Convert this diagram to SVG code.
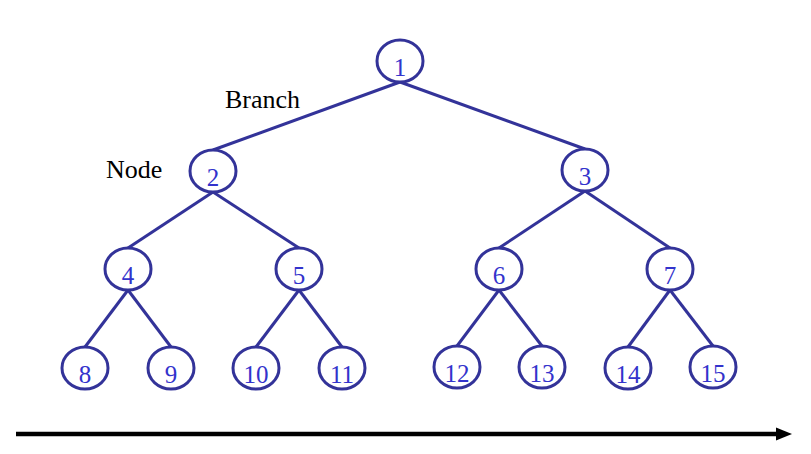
<svg xmlns="http://www.w3.org/2000/svg" width="811" height="454" viewBox="0 0 811 454">
<defs>
<style>
.n ellipse{fill:#fff;stroke:#333399;stroke-width:3}
.n text{font-family:"Liberation Serif","Times New Roman",serif;font-size:25px;fill:#3333cc;text-anchor:middle}
.lbl{font-family:"Liberation Serif","Times New Roman",serif;font-size:26px;fill:#000}
#edges line{stroke:#333399;stroke-width:3}
</style>
<marker id="ah" viewBox="0 0 10 10" refX="9" refY="5" markerWidth="3.4" markerHeight="3.4" orient="auto" markerUnits="strokeWidth">
<path d="M0,0 L10,5 L0,10 z" fill="#000"/>
</marker>
</defs>
<rect width="811" height="454" fill="#fff"/>
<g id="edges">
<line x1="400" y1="82" x2="213" y2="150"/>
<line x1="400" y1="82" x2="585" y2="149"/>
<line x1="213" y1="192" x2="128" y2="248"/>
<line x1="213" y1="192" x2="299" y2="248"/>
<line x1="585" y1="191" x2="499" y2="248"/>
<line x1="585" y1="191" x2="670" y2="248"/>
<line x1="128" y1="290" x2="85" y2="347"/>
<line x1="128" y1="290" x2="171" y2="347"/>
<line x1="299" y1="290" x2="256" y2="347"/>
<line x1="299" y1="290" x2="342" y2="347"/>
<line x1="499" y1="290" x2="457" y2="346"/>
<line x1="499" y1="290" x2="542" y2="346"/>
<line x1="670" y1="290" x2="628" y2="347"/>
<line x1="670" y1="290" x2="713" y2="346"/>
</g>
<g id="n1" class="n"><ellipse cx="400" cy="61" rx="23" ry="21"/><text x="400" y="76">1</text></g>
<g id="n2" class="n"><ellipse cx="213" cy="171" rx="23" ry="21"/><text x="213" y="186">2</text></g>
<g id="n3" class="n"><ellipse cx="585" cy="170" rx="23" ry="21"/><text x="585" y="185">3</text></g>
<g id="n4" class="n"><ellipse cx="128" cy="269" rx="23" ry="21"/><text x="128" y="284">4</text></g>
<g id="n5" class="n"><ellipse cx="299" cy="269" rx="23" ry="21"/><text x="299" y="284">5</text></g>
<g id="n6" class="n"><ellipse cx="499" cy="269" rx="23" ry="21"/><text x="499" y="284">6</text></g>
<g id="n7" class="n"><ellipse cx="670" cy="269" rx="23" ry="21"/><text x="670" y="284">7</text></g>
<g id="n8" class="n"><ellipse cx="85" cy="368" rx="23" ry="21"/><text x="85" y="383">8</text></g>
<g id="n9" class="n"><ellipse cx="171" cy="368" rx="23" ry="21"/><text x="171" y="383">9</text></g>
<g id="n10" class="n"><ellipse cx="256" cy="368" rx="23" ry="21"/><text x="256" y="383">10</text></g>
<g id="n11" class="n"><ellipse cx="342" cy="368" rx="23" ry="21"/><text x="342" y="383">11</text></g>
<g id="n12" class="n"><ellipse cx="457" cy="367" rx="23" ry="21"/><text x="457" y="382">12</text></g>
<g id="n13" class="n"><ellipse cx="542" cy="367" rx="23" ry="21"/><text x="542" y="382">13</text></g>
<g id="n14" class="n"><ellipse cx="628" cy="368" rx="23" ry="21"/><text x="628" y="383">14</text></g>
<g id="n15" class="n"><ellipse cx="713" cy="367" rx="23" ry="21"/><text x="713" y="382">15</text></g>
<text class="lbl" x="225" y="108">Branch</text>
<text class="lbl" x="106" y="178">Node</text>
<g id="axis">
<line x1="16" y1="434" x2="779" y2="434" stroke="#000" stroke-width="4.5"/>
<path d="M776,427.5 L792,434 L776,440.5 z" fill="#000"/>
</g>
</svg>
